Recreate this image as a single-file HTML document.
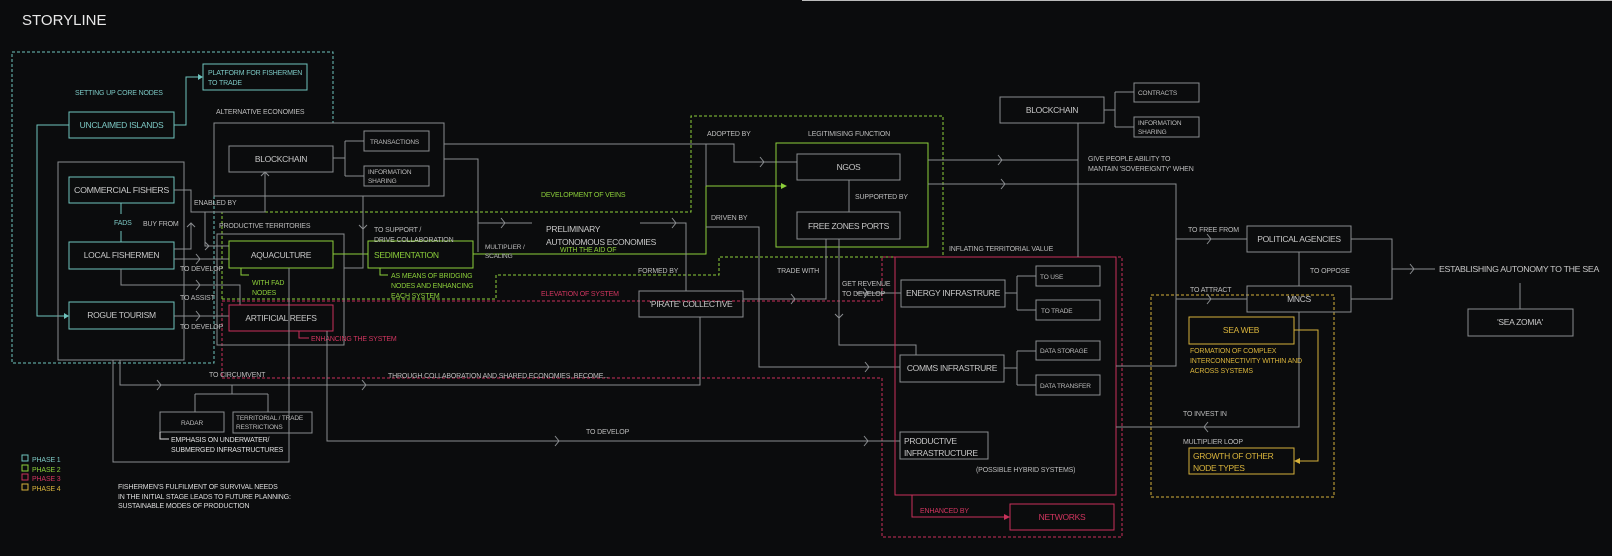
<!DOCTYPE html>
<html><head><meta charset="utf-8"><style>
html,body{margin:0;padding:0;background:#0b0c0d;}
svg{display:block;font-family:"Liberation Sans",sans-serif;}
.g{stroke:#8a8d90;fill:none;stroke-width:1}
.t{stroke:#6fc3bd;fill:none;stroke-width:1}
.gr{stroke:#8ccf3a;fill:none;stroke-width:1}
.r{stroke:#c8315a;fill:none;stroke-width:1}
.y{stroke:#d4b03a;fill:none;stroke-width:1}
.d{stroke-dasharray:3 2}
text{font-size:7px;fill:#bdbdbd;letter-spacing:-0.15px}
.bx{font-size:8.5px;fill:#c8c8c8;letter-spacing:-0.3px}
.tt{fill:#7cc8c4}.tg{fill:#8ccf3a}.tr{fill:#d0355f}.ty{fill:#d9b43c}
</style></head><body>
<svg width="1612" height="556" viewBox="0 0 1612 556" xmlns="http://www.w3.org/2000/svg">
<rect width="1612" height="556" fill="#0b0c0d"/>
<line x1="802" y1="0.5" x2="1612" y2="0.5" stroke="#bbb"/>
<text x="22" y="25" style="font-size:15px;fill:#e8e8e8;letter-spacing:0">STORYLINE</text>

<path class="t d" d="M12 52 H333 V123 M214 196 V363 H12 V52"/>
<path class="gr d" d="M222 299 V212 H691 V116 H943 V257 H719 V275 H496 V299 H222"/>
<path class="r d" d="M222 301 H882 V257 H1122 V537 H882 V378 H222 Z"/>
<rect class="y d" x="1151" y="295" width="183" height="202"/>

<text x="75" y="95" class="tt">SETTING UP CORE NODES</text>
<rect class="t" x="203" y="64" width="104" height="26"/>
<text x="208" y="75" class="tt">PLATFORM FOR FISHERMEN</text>
<text x="208" y="85" class="tt">TO TRADE</text>
<rect class="t" x="69" y="112" width="105" height="26"/>
<text x="121.5" y="128" text-anchor="middle" class="bx tt">UNCLAIMED ISLANDS</text>
<path class="t" d="M174 125 H186 V77 H201"/><path d="M198 74 L203 77 L198 80Z" fill="#6fc3bd"/>
<path class="t" d="M69 125 H37 V316 H67"/><path d="M64 313 L69 316 L64 319Z" fill="#6fc3bd"/>

<rect class="g" x="58" y="162" width="126" height="198"/>
<rect class="t" x="69" y="177" width="105" height="26"/>
<text x="74" y="193" class="bx" textLength="95" lengthAdjust="spacingAndGlyphs">COMMERCIAL FISHERS</text>
<rect class="t" x="69" y="242" width="105" height="27"/>
<text x="121.5" y="258" text-anchor="middle" class="bx">LOCAL FISHERMEN</text>
<rect class="t" x="69" y="302" width="105" height="27"/>
<text x="121.5" y="318" text-anchor="middle" class="bx">ROGUE TOURISM</text>
<path class="t" d="M121 203 V214 M121 231 V242"/>
<text x="114" y="225" class="tt">FADS</text>
<text x="143" y="226">BUY FROM</text>

<path class="g" d="M174 190 H191 V212 H265 V172 M205 212 V246 H229 M174 249 H191 V223 M174 259 H229 M121 269 V285 H240 V305 M174 316 H229"/>
<path class="g" d="M261 176 L265 172 L269 176 M187 227 L191 223 L195 227 M205 242 L209 246 L205 250 M196 254 L200 259 L196 264 M196 280 L200 285 L196 290 M196 311 L200 316 L196 321"/>
<text x="194" y="205">ENABLED BY</text>
<text x="180" y="271">TO DEVELOP</text>
<text x="180" y="300">TO ASSIST</text>
<text x="180" y="329">TO DEVELOP</text>

<text x="216" y="114">ALTERNATIVE ECONOMIES</text>
<rect class="g" x="214" y="123" width="230" height="73"/>
<rect class="g" x="229" y="146" width="104" height="26"/>
<text x="281" y="162" text-anchor="middle" class="bx">BLOCKCHAIN</text>
<rect class="g" x="364" y="131" width="65" height="20"/>
<text x="370" y="144" style="font-size:6.5px">TRANSACTIONS</text>
<rect class="g" x="364" y="166" width="65" height="20"/>
<text x="368" y="174" style="font-size:6.5px">INFORMATION</text>
<text x="368" y="183" style="font-size:6.5px">SHARING</text>
<path class="g" d="M333 158 H345 M345 141 V176 M345 141 H364 M345 176 H364"/>

<text x="219" y="228">PRODUCTIVE TERRITORIES</text>
<rect class="g" x="217" y="234" width="127" height="111"/>
<rect class="gr" x="229" y="241" width="104" height="27"/>
<text x="281" y="258" text-anchor="middle" class="bx">AQUACULTURE</text>
<rect class="gr" x="368" y="241" width="105" height="27"/>
<text x="374" y="258" class="bx tg">SEDIMENTATION</text>
<path class="gr" d="M333 254 H368 M241 268 V275 H249 M380 268 V275 H388 M473 254 H706 V186 H784"/>
<path d="M781 183 L787 186 L781 189Z" fill="#8ccf3a"/>
<text x="252" y="285" class="tg">WITH FAD</text>
<text x="252" y="295" class="tg">NODES</text>
<text x="391" y="278" class="tg">AS MEANS OF BRIDGING</text>
<text x="391" y="288" class="tg">NODES AND ENHANCING</text>
<text x="391" y="298" class="tg">EACH SYSTEM</text>
<text x="374" y="232">TO SUPPORT /</text>
<text x="374" y="242">DRIVE COLLABORATION</text>
<path class="g" d="M363 196 V268 H344 M359 225 L363 229 L367 225"/>
<rect class="r" x="229" y="305" width="104" height="26"/>
<text x="281" y="321" text-anchor="middle" class="bx">ARTIFICIAL REEFS</text>
<path class="r" d="M299 331 V338 H309"/>
<text x="311" y="341" class="tr">ENHANCING THE SYSTEM</text>

<path class="g" d="M120 360 V385 H700 V317 M157 380 L161 385 L157 390 M362 380 L366 385 L362 390"/>
<text x="209" y="377">TO CIRCUMVENT</text>
<text x="388" y="378">THROUGH COLLABORATION AND SHARED ECONOMIES, BECOME...</text>
<path class="g" d="M113 360 V462 H289 V268"/>
<path class="g" d="M232 385 V394 M195 394 H268 M195 394 V412 M268 394 V412"/>
<rect class="g" x="160" y="412" width="64" height="20"/>
<text x="192" y="425" text-anchor="middle" style="font-size:6.5px">RADAR</text>
<rect class="g" x="233" y="412" width="79" height="21"/>
<text x="236" y="420" style="font-size:6.5px">TERRITORIAL / TRADE</text>
<text x="236" y="429" style="font-size:6.5px">RESTRICTIONS</text>
<path d="M160 432 V439 H169" stroke="#ddd" fill="none"/>
<text x="171" y="442" style="fill:#e0e0e0">EMPHASIS ON UNDERWATER/</text>
<text x="171" y="452" style="fill:#e0e0e0">SUBMERGED INFRASTRUCTURES</text>
<path class="g" d="M327 331 V441 H900 M555 436 L559 441 L555 446 M864 436 L868 441 L864 446"/>
<text x="586" y="434">TO DEVELOP</text>

<rect x="22" y="455" width="6" height="6" class="t"/><text x="32" y="462" class="tt">PHASE 1</text>
<rect x="22" y="465" width="6" height="6" class="gr"/><text x="32" y="472" class="tg">PHASE 2</text>
<rect x="22" y="474" width="6" height="6" class="r"/><text x="32" y="481" class="tr">PHASE 3</text>
<rect x="22" y="484" width="6" height="6" class="y"/><text x="32" y="491" class="ty">PHASE 4</text>
<text x="118" y="489" style="fill:#ddd">FISHERMEN'S FULFILMENT OF SURVIVAL NEEDS</text>
<text x="118" y="499" style="fill:#ddd">IN THE INITIAL STAGE LEADS TO FUTURE PLANNING:</text>
<text x="118" y="508" style="fill:#ddd">SUSTAINABLE MODES OF PRODUCTION</text>

<path class="g" d="M444 144 H734 V162 H797 M444 159 H478 V252 M478 223 H532 M640 223 H686 V291 M706 144 V186 M706 227 H759 V367 H900"/>
<path class="g" d="M760 157 L764 162 L760 167 M501 218 L505 223 L501 228 M672 218 L676 223 L672 228 M865 362 L869 367 L865 372"/>
<text x="541" y="197" class="tg">DEVELOPMENT OF VEINS</text>
<text x="546" y="232" class="bx">PRELIMINARY</text>
<text x="546" y="245" class="bx">AUTONOMOUS ECONOMIES</text>
<text x="560" y="252" class="tg">WITH THE AID OF</text>
<text x="485" y="249" style="font-size:6.5px">MULTIPLIER /</text>
<text x="485" y="258" style="font-size:6.5px">SCALING</text>
<text x="638" y="273">FORMED BY</text>
<text x="541" y="296" class="tr">ELEVATION OF SYSTEM</text>
<text x="707" y="136">ADOPTED BY</text>
<text x="808" y="136">LEGITIMISING FUNCTION</text>
<text x="711" y="220">DRIVEN BY</text>
<rect class="gr" x="776" y="143" width="152" height="104"/>
<rect class="g" x="797" y="154" width="103" height="26"/>
<text x="848.5" y="170" text-anchor="middle" class="bx">NGOS</text>
<rect class="g" x="797" y="212" width="103" height="27"/>
<text x="848.5" y="229" text-anchor="middle" class="bx">FREE ZONES PORTS</text>
<path class="g" d="M849 180 V212"/>
<text x="855" y="199">SUPPORTED BY</text>
<rect class="g" x="639" y="291" width="104" height="26"/>
<text x="691" y="307" text-anchor="middle" class="bx">'PIRATE' COLLECTIVE</text>
<text x="777" y="273">TRADE WITH</text>
<path class="g" d="M743 299 H826 V239 M791 294 L795 299 L791 304 M839 239 V345 H916 V355 M835 314 L839 318 L843 314 M856 293 H901 M864 288 L868 293 L864 298"/>
<text x="842" y="286">GET REVENUE</text>
<text x="842" y="296">TO DEVELOP</text>
<text x="949" y="251">INFLATING TERRITORIAL VALUE</text>

<rect class="r" x="895" y="257" width="221" height="238"/>
<rect class="g" x="901" y="280" width="104" height="27"/>
<text x="906" y="296" class="bx" textLength="94" lengthAdjust="spacingAndGlyphs">ENERGY INFRASTRURE</text>
<rect class="g" x="1036" y="266" width="64" height="20"/><text x="1040" y="279" style="font-size:6.5px">TO USE</text>
<rect class="g" x="1036" y="300" width="64" height="20"/><text x="1041" y="313" style="font-size:6.5px">TO TRADE</text>
<path class="g" d="M1005 293 H1017 M1017 276 V310 M1017 276 H1036 M1017 310 H1036"/>
<rect class="g" x="900" y="355" width="104" height="27"/>
<text x="952" y="371" text-anchor="middle" class="bx">COMMS INFRASTRURE</text>
<rect class="g" x="1036" y="341" width="64" height="19"/><text x="1040" y="353" style="font-size:6.5px">DATA STORAGE</text>
<rect class="g" x="1036" y="375" width="64" height="20"/><text x="1040" y="388" style="font-size:6.5px">DATA TRANSFER</text>
<path class="g" d="M1004 368 H1017 M1017 351 V385 M1017 351 H1036 M1017 385 H1036"/>
<rect class="g" x="900" y="432" width="88" height="27"/>
<text x="904" y="444" class="bx">PRODUCTIVE</text>
<text x="904" y="456" class="bx">INFRASTRUCTURE</text>
<text x="976" y="472">(POSSIBLE HYBRID SYSTEMS)</text>
<path class="r" d="M912 495 V517 H1008"/><path d="M1004 514 L1010 517 L1004 520Z" fill="#c8315a"/>
<text x="920" y="513" class="tr">ENHANCED BY</text>
<rect class="r" x="1010" y="504" width="104" height="26"/>
<text x="1062" y="520" text-anchor="middle" class="bx tr">NETWORKS</text>

<rect class="g" x="1000" y="97" width="104" height="26"/>
<text x="1052" y="113" text-anchor="middle" class="bx">BLOCKCHAIN</text>
<rect class="g" x="1134" y="83" width="65" height="19"/><text x="1138" y="95" style="font-size:6.5px">CONTRACTS</text>
<rect class="g" x="1134" y="117" width="65" height="20"/><text x="1138" y="125" style="font-size:6.5px">INFORMATION</text><text x="1138" y="134" style="font-size:6.5px">SHARING</text>
<path class="g" d="M1104 110 H1115 M1115 92 V127 M1115 92 H1134 M1115 127 H1134 M1078 123 V257"/>
<path class="g" d="M928 160 H1078 M998 155 L1002 160 L998 165 M928 184 H1176 V366 H1116 M1001 179 L1005 184 L1001 189 M1176 239 H1247 M1207 234 L1211 239 L1207 244 M1176 299 H1247 M1207 294 L1211 299 L1207 304"/>
<text x="1088" y="161">GIVE PEOPLE ABILITY TO</text>
<text x="1088" y="171">MANTAIN 'SOVEREIGNTY' WHEN</text>
<text x="1188" y="232">TO FREE FROM</text>
<text x="1190" y="292">TO ATTRACT</text>
<rect class="g" x="1247" y="226" width="104" height="26"/>
<text x="1299" y="242" text-anchor="middle" class="bx">POLITICAL AGENCIES</text>
<rect class="g" x="1247" y="286" width="104" height="26"/>
<text x="1299" y="302" text-anchor="middle" class="bx">MNCS</text>
<path class="g" d="M1299 252 V286 M1299 312 V427 H1116 M1208 422 L1204 427 L1208 432 M1351 239 H1392 V299 H1351 M1392 269 H1435 M1410 264 L1414 269 L1410 274 M1520 283 V309"/>
<text x="1310" y="273">TO OPPOSE</text>
<text x="1183" y="416">TO INVEST IN</text>
<text x="1183" y="444">MULTIPLIER LOOP</text>
<text x="1439" y="272" class="bx" textLength="160" lengthAdjust="spacingAndGlyphs">ESTABLISHING AUTONOMY TO THE SEA</text>
<rect class="g" x="1468" y="309" width="105" height="27"/>
<text x="1520" y="325" text-anchor="middle" class="bx">'SEA ZOMIA'</text>
<rect class="y" x="1189" y="317" width="105" height="27"/>
<text x="1241" y="333" text-anchor="middle" class="bx ty">SEA WEB</text>
<text x="1190" y="353" class="ty">FORMATION OF COMPLEX</text>
<text x="1190" y="363" class="ty">INTERCONNECTIVITY WITHIN AND</text>
<text x="1190" y="373" class="ty">ACROSS SYSTEMS</text>
<rect class="y" x="1189" y="448" width="105" height="26"/>
<text x="1193" y="459" class="bx ty">GROWTH OF OTHER</text>
<text x="1193" y="471" class="bx ty">NODE TYPES</text>
<path class="y" d="M1294 330 H1318 V461 H1297"/><path d="M1300 458 L1294 461 L1300 464Z" fill="#d4b03a"/>
</svg>
</body></html>
